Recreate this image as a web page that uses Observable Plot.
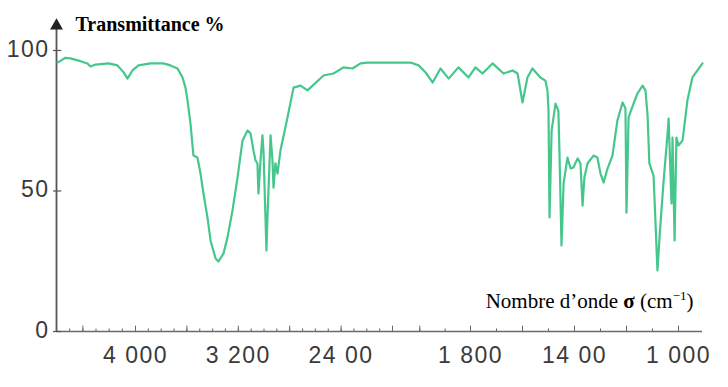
<!DOCTYPE html>
<html>
<head>
<meta charset="utf-8">
<script src="https://cdn.jsdelivr.net/npm/d3@7"></script>
<script src="https://cdn.jsdelivr.net/npm/@observablehq/plot@0.6"></script>
<style>
  html, body { margin: 0; padding: 0; background: #fff; }
  #chart svg { display: block; }
</style>
</head>
<body>
<div id="chart"></div>
<script>
// Wavenumber (cm-1) and transmittance (%)
const wavenumbers = [
  4592,4532,4494,4418,4365,4342,4304,4205,4137,4091,
  4061,4023,3977,3883,3782,3728,3673,3634,3611,3595,
  3572,3549,3518,3494,3471,3440,3416,3377,3354,3315,
  3284,3245,3206,3167,3128,3105,3082,3066,3051,3043,
  3027,3012,3004,2981,2973,2949,2934,2926,2911,2895,
  2872,2817,2770,2716,2661,2537,2459,2381,2311,2249,
  2195,1954,1933,1915,1897,1877,1856,1831,1805,1781,
  1754,1715,1673,1638,1619,1600,1581,1562,1531,1512,
  1504,1500,1496,1488,1473,1462,1458,1450,1442,1427,
  1415,1404,1388,1377,1369,1362,1350,1327,1312,1300,
  1288,1273,1254,1235,1215,1204,1200,1192,1173,1158,
  1138,1127,1119,1112,1096,1088,1081,1073,1058,1042,
  1038,1027,1023,1015,1008,1000,983,963,942,900
];
const transmittance = [
  95.7,97.4,97.2,96.2,95.4,94.3,95.0,95.4,94.7,92.3,
  90.0,92.9,94.7,95.4,95.4,94.7,93.6,90.4,86.8,82.2,
  74.0,62.6,61.9,56.2,49.1,40.6,32.4,26.0,24.9,27.8,
  33.5,43.1,54.8,68.0,71.5,70.5,64.4,60.9,59.8,49.1,
  60.9,69.8,64.4,28.8,40.6,69.8,60.9,51.2,59.8,56.2,
  64.4,76.2,86.8,87.5,85.8,91.1,91.8,94.0,93.6,95.4,
  95.7,95.7,94.7,92.2,88.6,93.6,90.0,94.0,90.4,94.0,
  91.8,95.4,91.8,92.9,91.8,81.5,90.4,93.6,90.4,89.3,
  85.8,78.6,40.6,71.5,81.1,78.6,64.4,30.6,52.7,61.9,
  58.0,58.4,61.6,59.8,44.8,54.8,59.8,62.6,61.9,56.2,
  53.0,58.0,62.6,75.1,81.5,79.4,42.3,76.2,81.1,84.7,
  87.5,85.8,76.9,59.8,55.5,37.7,21.7,33.5,52.7,70.5,
  75.8,45.6,69.0,32.4,69.0,66.2,68.0,82.2,90.4,95.4
];

// Axis (two-scale wavenumber axis: compressed above 2000 cm-1)
const xDomain = [4600, 4000, 2000, 1800, 1000, 900];
const xLabelValues = [4000, 3200, 2400, 1800, 1400, 1000];
const xLabelTexts = ["4 000", "3 200", "24 00", "1 800", "14 00", "1 000"];
const minorTicks = [4500,4400,4300,4200,4100,4000,3900,3800,3700,3600,3500,3400,3300,3200,3100,3000,2900,2800,2700,2600,2500,2400,2300,2200,2100,2000,1930,1865,1800,1700,1600,1500,1400,1300,1200,1100,1000];
const majorTicks = [4400,4000,3600,3200,2800,2400,2000,1930,1800,1600,1400,1200,1000];
const yTicks = [0, 50, 100];
const titleText = "Transmittance %";
const xTitleParts = ["Nombre d’onde ", "σ", " (cm", "−1", ")"];

const data = wavenumbers.map((w, i) => ({w, t: transmittance[i]}));
const xLabels = xLabelValues.map((v, i) => ({v, label: xLabelTexts[i]}));

const numFont = "'Liberation Sans', Arial, sans-serif";
const serif = "'Liberation Serif', 'Times New Roman', serif";

const chart = Plot.plot({
  width: 728,
  height: 387,
  marginLeft: 56,
  marginRight: 26,
  marginTop: 0,
  marginBottom: 56,
  style: {background: "#fff", overflow: "visible"},
  x: {type: "linear", domain: xDomain, range: [56, 135, 392, 470, 678, 702], axis: null},
  y: {type: "linear", domain: [0, 100], range: [331, 50], axis: null},
  marks: [
    // axes lines
    Plot.ruleY([0], {stroke: "#6a6a6a", strokeWidth: 1.5}),
    Plot.ruleX([xDomain[0]], {y1: 0, y2: 108, stroke: "#555", strokeWidth: 1.8}),
    Plot.dot([108.8], {x: () => xDomain[0], y: d => d, symbol: "triangle", r: 4.8, fill: "#222", stroke: "none"}),
    // x tick marks
    Plot.ruleX(minorTicks, {x: d => d, y1: 0, y2: 0.9, stroke: "#666", strokeWidth: 1}),
    Plot.ruleX(majorTicks, {x: d => d, y1: 0, y2: 1.9, stroke: "#666", strokeWidth: 1}),
    // y tick marks crossing the axis
    Plot.ruleY(yTicks, {x1: 4623, x2: 4560, stroke: "#555", strokeWidth: 1.2}),
    // y labels
    Plot.text(yTicks, {x: () => xDomain[0], y: d => d, text: d => String(d), textAnchor: "end", dx: -7, dy: -1,
      fontSize: 23, fontFamily: numFont, fill: "#3a3a3a"}),
    // x labels
    Plot.text(xLabels, {x: "v", y: () => 0, text: "label", dy: 24, lineAnchor: "middle",
      fontSize: 23, fontFamily: numFont, fill: "#3a3a3a"}),
    // spectrum
    Plot.line(data, {x: "w", y: "t", stroke: "#45c78c", strokeWidth: 2.2, strokeLinejoin: "round"}),
    // title
    Plot.text([titleText], {frameAnchor: "top-left", dx: 19, dy: 30, lineAnchor: "bottom", textAnchor: "start",
      fontSize: 20, fontWeight: "bold", fontFamily: serif, fill: "#000"}),
    // x axis title (patched below for bold sigma and superscript)
    Plot.text([xTitleParts.join("")], {frameAnchor: "bottom-right", dx: -9, dy: -24, lineAnchor: "bottom", textAnchor: "end",
      fontSize: 21, fontFamily: serif, fill: "#000"})
  ]
});

const texts = d3.select(chart).selectAll("text");
// letter spacing on numeric labels
texts.filter(function() { return /^[0-9 ]+$/.test(this.textContent); })
  .style("letter-spacing", "1.5px");

// rich text for the axis title
texts.filter(function() { return this.textContent === xTitleParts.join(""); }).each(function() {
  const t = d3.select(this);
  t.text(null);
  t.append("tspan").text(xTitleParts[0]);
  t.append("tspan").attr("font-weight", "bold").text(xTitleParts[1]);
  t.append("tspan").text(xTitleParts[2]);
  t.append("tspan").attr("font-size", 13).attr("dy", -8).text(xTitleParts[3]);
  t.append("tspan").attr("dy", 8).text(xTitleParts[4]);
});

document.getElementById("chart").appendChild(chart);
</script>
</body>
</html>
